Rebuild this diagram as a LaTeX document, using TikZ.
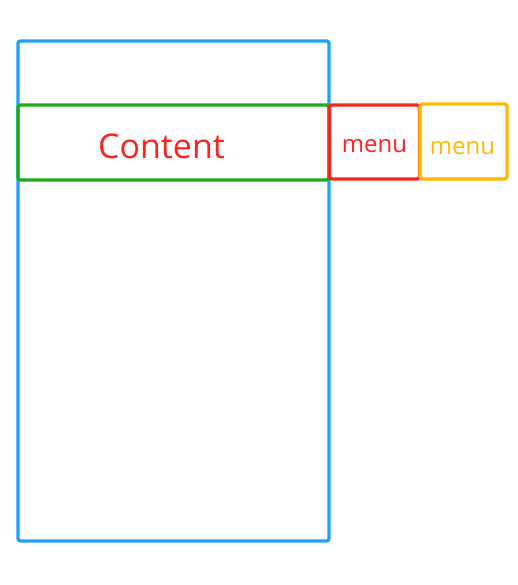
\documentclass[tikz,border=0pt]{standalone}
\usepackage{fontspec}
\setmainfont{Open Sans}
\definecolor{scrblue}{RGB}{30,160,255}
\definecolor{cntgreen}{RGB}{26,173,25}
\definecolor{mnured}{RGB}{250,35,30}
\definecolor{mnuyellow}{RGB}{255,186,0}
\tikzset{
  panel/.style={draw, line width=3.3pt, rounded corners=2.5pt, inner sep=0pt,
    minimum width=#1},
  lbl/.style={inner sep=0pt, font=\fontsize{24}{28}\selectfont}
}
\begin{document}
\begin{tikzpicture}[x=1pt,y=-1pt]
  \useasboundingbox (0,0) rectangle (517,585);
  % phone screen
  \node[panel=311, scrblue, minimum height=500] (screen) at (173.5,291) {};
  % content bar and the two menus beside it
  \node[panel=311, cntgreen, minimum height=75] (content) at (173.5,142.5) {};
  \node[panel=90, mnured, minimum height=74] (menuA) at (374.5,142) {};
  \node[panel=87, mnuyellow, minimum height=75] (menuB) at (463.5,141.5) {};
  \node[lbl, mnured, font=\fontsize{34}{40}\selectfont] (contentlbl)
    at ([xshift=-12,yshift=-4]content.center) {Content};
  \node[lbl, mnured] (menuAlbl) at ([yshift=-4]menuA.center) {menu};
  \node[lbl, mnuyellow] (menuBlbl) at ([xshift=-1,yshift=-6.5]menuB.center) {menu};
\end{tikzpicture}
\end{document}
